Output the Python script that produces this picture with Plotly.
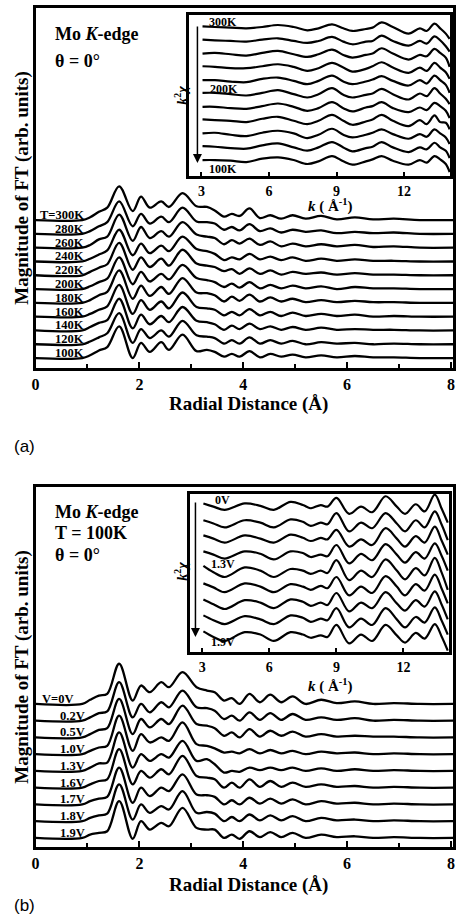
import plotly.graph_objects as go

W, H = 457, 917

# ---------------- DATA ----------------
# Main panels: Fourier-transform magnitude vs radial distance (values relative to each curve's baseline)
R = [0.0, 0.9, 1.05, 1.22, 1.38, 1.61, 1.87, 2.03, 2.2, 2.42, 2.57, 2.83, 3.1, 3.3, 3.45,
     3.63, 3.78, 3.93, 4.12, 4.32, 4.52, 4.73, 4.95, 5.2, 5.5, 5.8, 6.15, 6.5, 6.9, 7.4, 8.04]

temp_labels = ["T=300K", "280K", "260K", "240K", "220K", "200K", "180K", "160K", "140K", "120K", "100K"]
ft_300 = [0, 0, 0.2, 0.6, 0.9, 2.45, 0.65, 1.7, 0.9, 1.35, 0.95, 1.95, 1.0, 0.95, 0.7, 0.25, 0.45, 0.3, 0.85, 0.15, 0.35, 0.1, 0.35, 0.1, 0.3, 0.05, 0.2, 0.05, 0.1, 0, 0]
ft_280 = [0, 0, 0.2, 0.55, 0.85, 2.35, 0.55, 1.45, 0.75, 1.25, 0.85, 1.9, 0.9, 0.85, 0.75, 0.3, 0.5, 0.25, 0.7, 0.2, 0.4, 0.1, 0.3, 0.15, 0.25, 0.05, 0.15, 0.05, 0.1, 0, 0]
ft_260 = [0, 0, 0.2, 0.6, 0.8, 2.4, 0.5, 1.5, 0.7, 1.2, 0.8, 1.85, 0.95, 0.8, 0.7, 0.25, 0.55, 0.3, 0.65, 0.2, 0.45, 0.1, 0.3, 0.1, 0.25, 0.1, 0.2, 0.05, 0.1, 0, 0]
ft_240 = [0, 0, 0.2, 0.5, 0.8, 2.3, 0.45, 1.3, 0.6, 1.15, 0.75, 1.8, 0.9, 0.75, 0.55, 0.1, 0.3, 0.15, 0.55, 0.15, 0.35, 0.1, 0.3, 0.05, 0.2, 0.05, 0.15, 0.05, 0.05, 0, 0]
ft_220 = [0, 0, 0.25, 0.55, 0.8, 2.35, 0.4, 1.3, 0.6, 1.2, 0.7, 1.85, 0.85, 0.7, 0.6, 0.3, 0.45, 0.1, 0.5, 0.1, 0.35, 0.05, 0.25, 0.1, 0.2, 0.05, 0.15, 0.05, 0.05, 0, 0]
ft_200 = [0, 0, 0.2, 0.5, 0.75, 2.3, 0.35, 1.25, 0.55, 1.1, 0.7, 1.75, 0.8, 0.65, 0.5, 0.15, 0.4, 0.1, 0.5, 0.05, 0.3, 0.05, 0.25, 0.05, 0.2, 0.0, 0.15, 0.05, 0.05, 0, 0]
ft_180 = [0, 0, 0.2, 0.55, 0.8, 2.35, 0.3, 1.25, 0.5, 1.15, 0.65, 1.8, 0.75, 0.7, 0.55, 0.1, 0.45, 0.15, 0.6, 0.1, 0.4, 0.1, 0.3, 0.05, 0.2, 0.05, 0.15, 0.05, 0.05, 0, 0]
ft_160 = [0, 0, 0.2, 0.5, 0.75, 2.3, 0.2, 1.2, 0.5, 1.1, 0.6, 1.75, 0.7, 0.6, 0.5, 0.1, 0.35, 0.1, 0.55, 0.1, 0.35, 0.05, 0.3, 0.05, 0.2, 0.05, 0.15, 0.0, 0.05, 0, 0]
ft_140 = [0, 0, 0.25, 0.55, 0.75, 2.3, 0.15, 1.15, 0.45, 1.05, 0.6, 1.7, 0.7, 0.6, 0.45, 0.05, 0.35, 0.1, 0.5, 0.1, 0.3, 0.05, 0.25, 0.05, 0.2, 0.05, 0.1, 0.05, 0.05, 0, 0]
ft_120 = [0, 0, 0.2, 0.5, 0.8, 2.25, 0.1, 1.1, 0.45, 1.0, 0.55, 1.7, 0.65, 0.55, 0.45, 0.05, 0.3, 0.05, 0.5, 0.05, 0.3, 0.05, 0.25, 0.0, 0.15, 0.05, 0.1, 0.0, 0.05, 0, 0]
ft_100 = [0, 0, 0.2, 0.55, 0.8, 2.3, 0.0, 1.1, 0.45, 1.15, 0.6, 1.7, 0.5, 0.6, 0.45, 0.1, 0.3, 0.1, 0.5, 0.05, 0.3, 0.1, 0.25, 0.05, 0.2, 0.05, 0.15, 0.05, 0.05, 0, 0]
ft_temp = [ft_300, ft_280, ft_260, ft_240, ft_220, ft_200, ft_180, ft_160, ft_140, ft_120, ft_100]

volt_labels = ["V=0V", "0.2V", "0.5V", "1.0V", "1.3V", "1.6V", "1.7V", "1.8V", "1.9V"]
ft_v00 = [0, 0, 0.25, 0.5, 0.6, 2.4, 0.2, 1.1, 0.7, 1.3, 1.0, 1.9, 1.0, 0.8, 0.7, 0.2, 0.35, 0.0, 0.6, 0.1, 0.55, 0.1, 0.45, 0.0, 0.25, 0.05, 0.15, 0.0, 0.05, 0, 0]
ft_v02 = [0, 0, 0.2, 0.45, 0.55, 2.3, 0.2, 1.0, 0.5, 1.1, 0.8, 1.8, 0.8, 0.75, 0.6, 0.1, 0.3, 0.0, 0.5, 0.05, 0.45, 0.05, 0.4, 0.05, 0.2, 0.05, 0.15, 0.0, 0.05, 0, 0]
ft_v05 = [0, 0, 0.2, 0.45, 0.55, 2.3, 0.2, 1.1, 0.6, 1.1, 0.8, 1.9, 0.8, 0.7, 0.55, 0.1, 0.3, 0.0, 0.5, 0.05, 0.4, 0.1, 0.35, 0.05, 0.2, 0.05, 0.1, 0.05, 0.05, 0, 0]
ft_v10 = [0, 0, 0.2, 0.4, 0.5, 2.3, 0.2, 1.2, 0.7, 1.0, 0.8, 1.9, 0.6, 0.5, 0.35, 0.1, 0.15, 0.05, 0.3, 0.05, 0.25, 0.05, 0.2, 0.0, 0.15, 0.05, 0.1, 0.0, 0.05, 0, 0]
ft_v13 = [0, 0, 0.2, 0.45, 0.5, 2.3, 0.2, 1.0, 0.6, 1.0, 0.8, 1.8, 0.6, 0.7, 0.4, -0.1, 0.0, -0.05, 0.2, 0.05, 0.2, 0.05, 0.2, 0.0, 0.15, 0.0, 0.1, 0.0, 0.05, 0, 0]
ft_v16 = [0, 0, 0.2, 0.4, 0.5, 2.3, 0.2, 1.0, 0.6, 1.1, 0.8, 1.9, 0.7, 0.6, 0.5, 0.0, 0.3, 0.0, 0.5, 0.05, 0.4, 0.05, 0.3, 0.05, 0.2, 0.05, 0.1, 0.0, 0.05, 0, 0]
ft_v17 = [0, 0, 0.2, 0.35, 0.45, 2.2, 0.1, 1.0, 0.5, 1.0, 0.8, 1.8, 0.6, 0.55, 0.45, 0.0, 0.25, 0.0, 0.4, 0.05, 0.35, 0.05, 0.3, 0.0, 0.2, 0.05, 0.1, 0.0, 0.05, 0, 0]
ft_v18 = [0, 0, 0.2, 0.35, 0.45, 2.2, 0.1, 1.0, 0.5, 0.9, 0.7, 1.8, 0.5, 0.55, 0.45, 0.0, 0.25, 0.0, 0.4, 0.05, 0.35, 0.05, 0.3, 0.0, 0.2, 0.05, 0.1, 0.0, 0.05, 0, 0]
ft_v19 = [0, 0, 0.2, 0.3, 0.4, 2.2, -0.05, 1.0, 0.5, 0.9, 0.7, 1.8, 0.6, 0.5, 0.5, 0.0, 0.2, -0.05, 0.4, 0.05, 0.35, 0.05, 0.3, 0.0, 0.2, 0.05, 0.1, 0.0, 0.05, 0, 0]
ft_volt = [ft_v00, ft_v02, ft_v05, ft_v10, ft_v13, ft_v16, ft_v17, ft_v18, ft_v19]

# Insets: k^2 chi(k) spectra
KA = [3.05, 3.6, 4.3, 5.0, 5.7, 6.4, 7.1, 7.7, 8.2, 8.8, 9.3, 9.7, 10.3, 10.6, 11.0, 11.5,
      12.2, 12.7, 13.0, 13.35, 13.6, 13.85, 14.02]
chi_300 = [0.05, 0.0, -0.05, -0.1, 0.0, 0.15, 0.0, -0.25, -0.1, 0.2, -0.1, -0.3, -0.15, -0.05, 0.35, 0.0, -0.5, -0.1, -0.3, 0.25, -0.1, -0.5, -0.9]
chi_280 = [0.05, 0.0, -0.05, -0.1, 0.05, 0.15, -0.05, -0.2, -0.05, 0.25, -0.1, -0.3, -0.1, -0.05, 0.35, -0.05, -0.4, -0.05, -0.25, 0.3, 0.0, -0.45, -0.85]
chi_260 = [0.0, 0.05, -0.05, -0.15, 0.05, 0.2, -0.05, -0.25, -0.05, 0.3, -0.1, -0.3, -0.1, 0.0, 0.4, 0.0, -0.45, -0.1, -0.2, 0.35, 0.05, -0.3, -1.0]
chi_240 = [0.05, 0.0, -0.1, -0.1, 0.05, 0.2, 0.0, -0.3, -0.1, 0.3, -0.05, -0.35, -0.15, 0.05, 0.35, -0.05, -0.45, -0.05, -0.3, 0.3, -0.05, -0.4, -0.9]
chi_220 = [0.0, 0.0, -0.1, -0.15, 0.1, 0.2, -0.05, -0.3, -0.05, 0.35, -0.1, -0.3, -0.1, 0.05, 0.3, -0.05, -0.4, 0.0, -0.25, 0.35, 0.0, -0.35, -0.95]
chi_200 = [0.05, 0.05, -0.05, -0.15, 0.05, 0.25, -0.05, -0.3, -0.05, 0.4, -0.1, -0.3, -0.1, 0.0, 0.35, -0.05, -0.45, 0.0, -0.2, 0.4, 0.0, -0.4, -0.8]
chi_180 = [0.0, 0.0, -0.1, -0.15, 0.05, 0.25, 0.0, -0.3, -0.1, 0.35, -0.1, -0.35, -0.05, 0.05, 0.35, -0.1, -0.4, -0.05, -0.25, 0.3, 0.05, -0.3, -0.85]
chi_160 = [0.05, 0.0, -0.05, -0.15, 0.1, 0.25, -0.05, -0.3, -0.05, 0.4, -0.05, -0.35, -0.1, 0.05, 0.4, -0.05, -0.45, 0.0, -0.3, 0.35, -0.15, -0.2, -0.7]
chi_140 = [0.0, 0.05, -0.1, -0.2, 0.05, 0.2, 0.0, -0.35, -0.1, 0.35, -0.1, -0.3, -0.1, 0.05, 0.3, -0.05, -0.4, -0.05, -0.25, 0.3, 0.0, -0.3, -0.8]
chi_120 = [0.05, 0.0, -0.1, -0.15, 0.1, 0.25, -0.05, -0.3, -0.05, 0.35, -0.05, -0.35, -0.1, 0.0, 0.35, -0.05, -0.4, -0.05, -0.2, 0.3, -0.05, -0.3, -0.85]
chi_100 = [0.0, 0.0, -0.05, -0.15, 0.1, 0.2, 0.0, -0.3, -0.1, 0.3, -0.1, -0.35, -0.1, 0.05, 0.3, -0.05, -0.35, 0.0, -0.2, 0.3, 0.05, -0.3, -0.9]
chi_temp = [chi_300, chi_280, chi_260, chi_240, chi_220, chi_200, chi_180, chi_160, chi_140, chi_120, chi_100]

KB = [3.05, 3.5, 4.0, 4.9, 5.6, 6.2, 6.95, 7.5, 7.85, 8.3, 8.6, 9.0, 9.57, 10.1, 10.6, 11.2,
      11.7, 12.07, 12.55, 12.95, 13.4, 13.7, 13.98]
chi_v00 = [0.1, -0.1, -0.3, 0.1, -0.05, -0.3, 0.2, 0.0, -0.2, 0.0, -0.1, 0.45, -0.55, -0.1, -0.45, 0.55, -0.1, -0.55, 0.05, -0.4, 0.65, -0.2, -1.1]
chi_v02 = [0.05, -0.15, -0.4, 0.05, -0.1, -0.4, 0.1, -0.05, -0.3, -0.1, -0.2, 0.5, -0.65, -0.1, -0.45, 0.5, -0.15, -0.65, 0.05, -0.4, 0.6, -0.2, -1.2]
chi_v05 = [0.1, -0.1, -0.35, 0.1, -0.1, -0.35, 0.15, -0.05, -0.25, -0.05, -0.15, 0.45, -0.6, -0.15, -0.5, 0.55, -0.1, -0.6, 0.05, -0.35, 0.65, -0.2, -1.1]
chi_v10 = [0.1, -0.1, -0.35, 0.1, -0.05, -0.4, 0.1, 0.0, -0.25, -0.1, -0.2, 0.5, -0.65, -0.05, -0.45, 0.55, -0.1, -0.6, 0.05, -0.35, 0.6, -0.15, -1.1]
chi_v13 = [0.2, -0.2, -0.5, 0.1, -0.1, -0.5, 0.0, -0.1, -0.3, -0.1, -0.25, 0.55, -0.7, -0.1, -0.5, 0.6, -0.1, -0.65, 0.05, -0.4, 0.7, -0.2, -1.3]
chi_v16 = [0.1, -0.15, -0.45, 0.1, -0.1, -0.45, 0.05, -0.1, -0.3, -0.05, -0.2, 0.5, -0.65, -0.1, -0.5, 0.55, -0.1, -0.65, 0.05, -0.35, 0.65, -0.2, -1.15]
chi_v17 = [0.1, -0.2, -0.5, 0.05, -0.1, -0.45, 0.1, -0.05, -0.3, -0.1, -0.25, 0.5, -0.65, -0.1, -0.45, 0.55, -0.15, -0.6, 0.05, -0.35, 0.6, -0.2, -1.15]
chi_v18 = [0.1, -0.2, -0.45, 0.05, -0.15, -0.45, 0.1, -0.05, -0.3, -0.1, -0.2, 0.55, -0.65, -0.1, -0.5, 0.55, -0.15, -0.65, 0.0, -0.35, 0.6, -0.2, -1.1]
chi_v19 = [0.1, -0.25, -0.5, 0.05, -0.1, -0.5, 0.05, -0.1, -0.3, -0.15, -0.25, 0.5, -0.65, -0.1, -0.5, 0.5, -0.15, -0.6, 0.0, -0.35, 0.55, -0.2, -1.1]
chi_volt = [chi_v00, chi_v02, chi_v05, chi_v10, chi_v13, chi_v16, chi_v17, chi_v18, chi_v19]

main_ticks = [0, 2, 4, 6, 8]
main_minor = [1, 3, 5, 7]
inset_ticks = [3, 6, 9, 12]

# ---------------- FIGURE ----------------
SERIF = "Liberation Serif"
fig = go.Figure()


def px(x):
    return x / W


def py(y):
    return 1 - y / H


def add_stack(xs, curves, xa, ya, width=2.3):
    n = len(curves)
    for i, vals in enumerate(curves):
        off = n - 1 - i
        fig.add_trace(go.Scatter(
            x=xs, y=[v + off for v in vals], mode="lines",
            line=dict(color="black", width=width, shape="spline", smoothing=1.0),
            xaxis=xa, yaxis=ya, showlegend=False, hoverinfo="skip"))


add_stack(R, ft_temp, "x", "y")
add_stack(KA, chi_temp, "x2", "y2", 2.2)
add_stack(R, ft_volt, "x3", "y3")
add_stack(KB, chi_volt, "x4", "y4", 2.2)

frame = dict(showline=True, mirror=True, linewidth=2.5, linecolor="black",
             showgrid=False, zeroline=False)
tickf_main = dict(family=SERIF, size=16, color="black", weight="bold")
tickf_in = dict(family=SERIF, size=14, color="black", weight="bold")

main_x = dict(range=[0, 8.04], tickvals=main_ticks, ticks="inside", ticklen=6, tickwidth=1.5,
              tickcolor="black", tickfont=tickf_main,
              minor=dict(tickvals=main_minor, ticks="inside", ticklen=4, tickwidth=1.5, tickcolor="black"),
              **frame)
inset_x = dict(range=[2.43, 14.04], tickvals=inset_ticks, ticks="inside", ticklen=4, tickwidth=1.5,
               tickcolor="black", tickfont=tickf_in, **frame)
noy = dict(showticklabels=False, ticks="", **frame)

fig.update_layout(
    width=W, height=H, autosize=False,
    margin=dict(l=0, r=0, t=0, b=0),
    paper_bgcolor="white", plot_bgcolor="white",
    xaxis=dict(domain=[px(32), px(455)], anchor="y", **main_x),
    yaxis=dict(domain=[py(368), py(8)], anchor="x", range=[-0.72, 25.37], **noy),
    xaxis2=dict(domain=[px(187), px(452)], anchor="y2", **inset_x),
    yaxis2=dict(domain=[py(176), py(15)], anchor="x2", range=[-1.2, 10.9], **noy),
    xaxis3=dict(domain=[px(32), px(455)], anchor="y3", **main_x),
    yaxis3=dict(domain=[py(847), py(487)], anchor="x3", range=[-0.54, 20.95], **noy),
    xaxis4=dict(domain=[px(188), px(451)], anchor="y4", **inset_x),
    yaxis4=dict(domain=[py(652), py(494)], anchor="x4", range=[-1.19, 8.69], **noy),
)

ann = []


def text(x, y, t, size, xanchor="center", yanchor="middle", angle=0, family=SERIF, **kw):
    ann.append(dict(x=x, y=y, xref="paper", yref="paper", text=t, showarrow=False,
                    xanchor=xanchor, yanchor=yanchor, textangle=angle,
                    font=dict(family=family, size=size, color="black"), **kw))


for yc in (188, 667):
    text(px(18), py(yc), "<b>Magnitude of FT (arb. units)</b>", 19, angle=-90)
for yc in (404, 885):
    text(px(248), py(yc), "<b>Radial Distance (Å)</b>", 19)
text(px(8), py(447), "(a)", 17, xanchor="left", family="Liberation Sans")
text(px(8), py(905), "(b)", 17, xanchor="left", family="Liberation Sans")

text(px(50), py(34), "<b>Mo <i>K</i>-edge</b>", 18, xanchor="left")
text(px(50), py(61), "<b>θ = 0°</b>", 18, xanchor="left")
text(px(50), py(512), "<b>Mo <i>K</i>-edge</b>", 18, xanchor="left")
text(px(50), py(533), "<b>T = 100K</b>", 18, xanchor="left")
text(px(50), py(555), "<b>θ = 0°</b>", 18, xanchor="left")

for yc in (205, 685):
    text(px(331), py(yc), "<b><i>k</i> ( Å<sup>-1</sup>)</b>", 15)
for yc in (95, 571):
    text(px(179), py(yc), "<b><i>k</i><sup>2</sup><i>χ</i></b>", 14, angle=-90)

# arrows in the insets
for (xh, yh, ytop) in ((196, 163, 25), (194, 637, 501)):
    ann.append(dict(x=px(xh), y=py(yh), xref="paper", yref="paper", ax=0, ay=-(yh - ytop),
                    axref="pixel", ayref="pixel", showarrow=True, arrowhead=2, arrowsize=1.2,
                    arrowwidth=1.5, arrowcolor="black", text=""))

# curve labels
lab_font = dict(family=SERIF, size=12.5, color="black")
nT = len(temp_labels)
for i, lab in enumerate(temp_labels):
    ann.append(dict(x=0.95, y=nT - 1 - i, xref="x", yref="y", text="<b>%s</b>" % lab,
                    showarrow=False, xanchor="right", yanchor="bottom", yshift=-3,
                    borderpad=0, font=lab_font))
nV = len(volt_labels)
for i, lab in enumerate(volt_labels):
    if i == 0:
        xa, anc = 0.1, "left"
    else:
        xa, anc = 0.97, "right"
    ann.append(dict(x=xa, y=nV - 1 - i, xref="x3", yref="y3", text="<b>%s</b>" % lab,
                    showarrow=False, xanchor=anc, yanchor="bottom", yshift=-3,
                    borderpad=0, font=lab_font))

# inset labels
in_font = dict(family=SERIF, size=12, color="black")
for (xv, yv, lab, xr, yr, anchor, ys) in (
        (3.31, 10, "300K", "x2", "y2", "bottom", -3),
        (3.35, 5, "200K", "x2", "y2", "bottom", -3),
        (3.31, 0, "100K", "x2", "y2", "top", -1),
        (3.53, 8, "0V", "x4", "y4", "bottom", -3),
        (3.35, 4, "1.3V", "x4", "y4", "bottom", -3),
        (3.35, 0, "1.9V", "x4", "y4", "top", -1)):
    ann.append(dict(x=xv, y=yv, xref=xr, yref=yr, text="<b>%s</b>" % lab, showarrow=False,
                    xanchor="left", yanchor=anchor, yshift=ys, borderpad=0, font=in_font))

fig.update_layout(annotations=ann)
fig.write_html("out.html", config={"displayModeBar": False},
               post_script="document.body.style.margin='0';document.body.style.padding='0';")
